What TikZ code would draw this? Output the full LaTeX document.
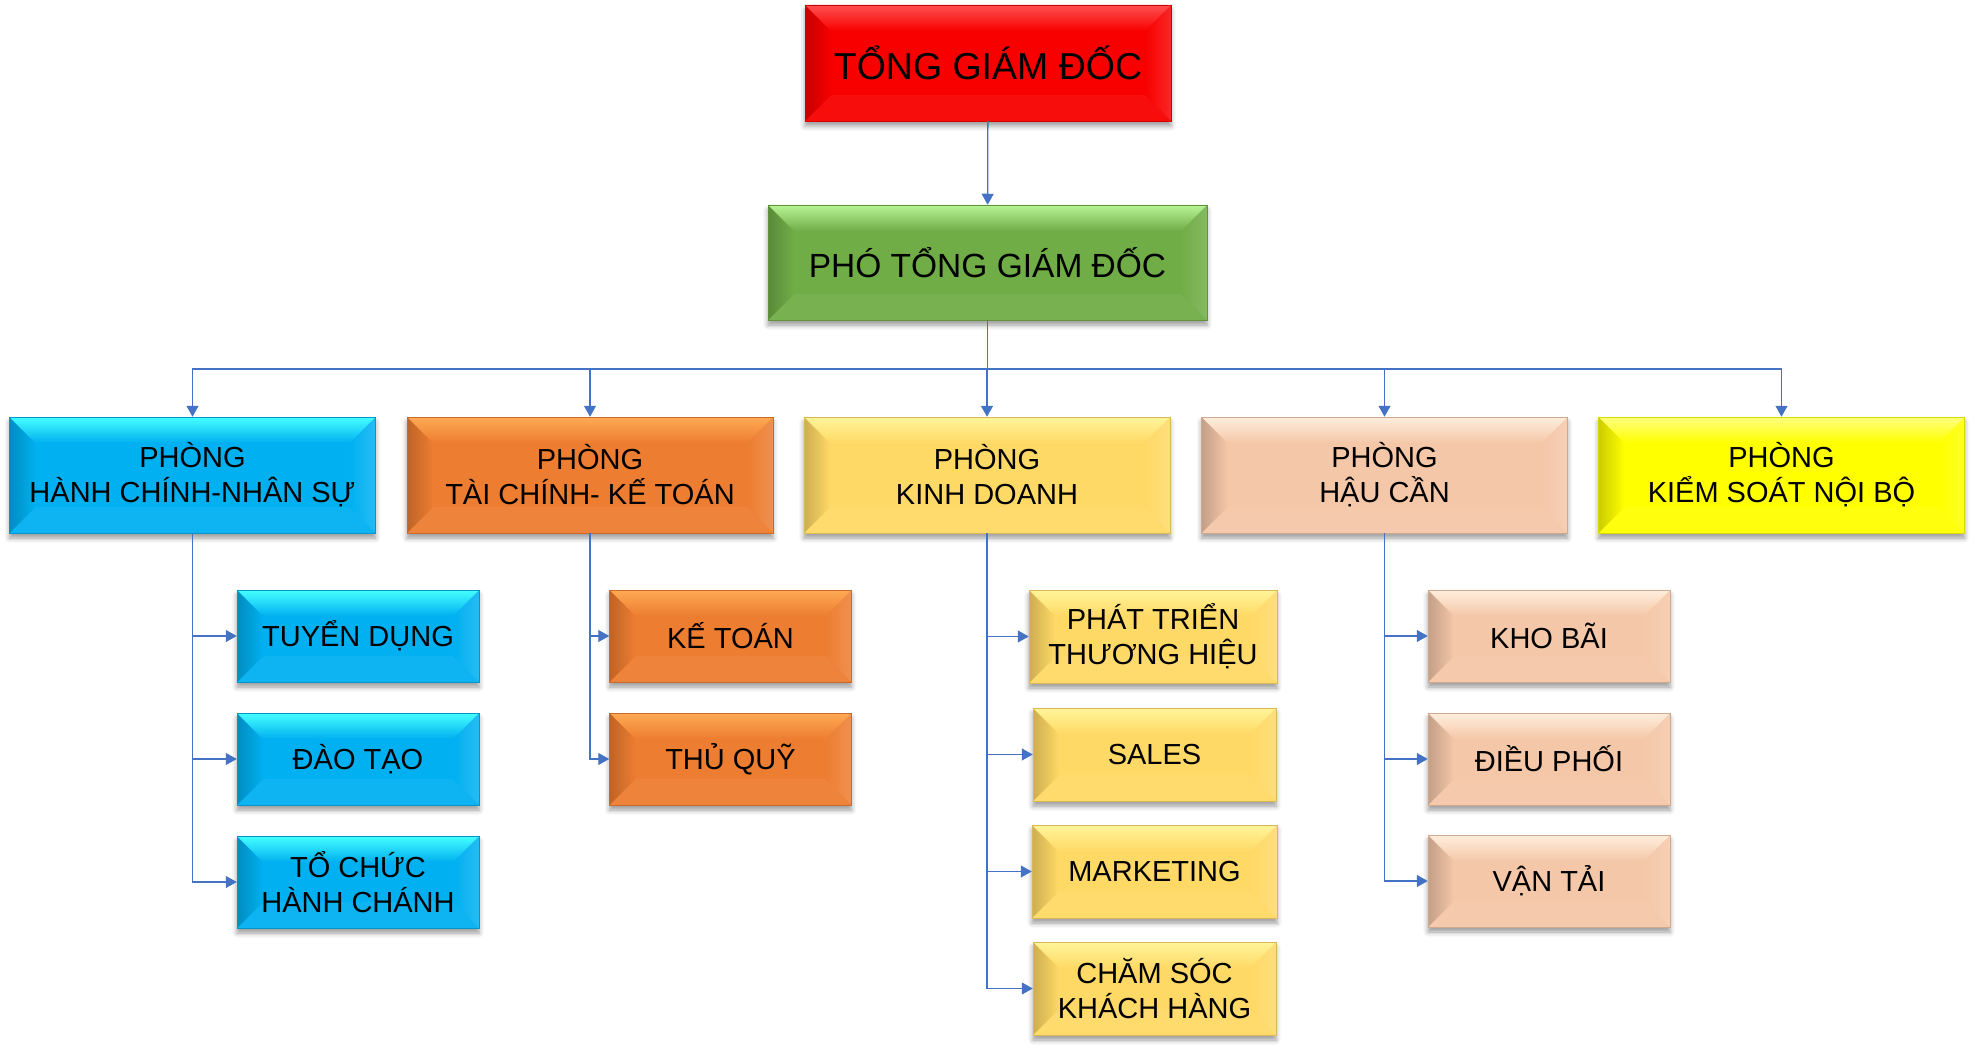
\documentclass[tikz,border=0pt]{standalone}
\usepackage{fontspec}
\setmainfont{Liberation Sans}
\usetikzlibrary{arrows.meta,shadows.blur}
\definecolor{lineblue}{HTML}{4472C4}
\definecolor{redM}{HTML}{F80000}\definecolor{redT}{HTML}{FF5050}
\definecolor{greenM}{HTML}{70AD47}\definecolor{greenT}{HTML}{B8F495}
\definecolor{blueM}{HTML}{00B0F0}\definecolor{blueT}{HTML}{45FFFF}
\definecolor{orangeM}{HTML}{ED7D31}\definecolor{orangeT}{HTML}{FFAA55}
\definecolor{goldM}{HTML}{FFD966}\definecolor{goldT}{HTML}{FFF59A}
\definecolor{peachM}{HTML}{F4C7A8}\definecolor{peachT}{HTML}{FFEEDD}
\definecolor{yellowM}{HTML}{FFFF00}\definecolor{yellowT}{HTML}{FFFF80}
\tikzset{
  bev/.style 2 args={rectangle, inner sep=0pt, align=center, text=black,
    fill=#1, draw=#1!85!black, line width=.5pt,
    blur shadow={shadow xshift=0pt, shadow yshift=-5pt, shadow blur radius=5pt, shadow opacity=40},
    path picture={
      \coordinate (bnw) at (path picture bounding box.north west);
      \coordinate (bne) at (path picture bounding box.north east);
      \coordinate (bsw) at (path picture bounding box.south west);
      \coordinate (bse) at (path picture bounding box.south east);
      \fill[#1!95!white] (bsw) -- (bse) -- ([xshift=-26pt,yshift=26pt]bse) -- ([xshift=26pt,yshift=26pt]bsw) -- cycle;
      \shade[left color=#1, right color=#1!85!white] (bne) -- (bse) -- ([xshift=-26pt,yshift=26pt]bse) -- ([xshift=-26pt,yshift=-26pt]bne) -- cycle;
      \shade[left color=#1!80!black, right color=#1] (bnw) -- ([xshift=26pt,yshift=-26pt]bnw) -- ([xshift=26pt,yshift=26pt]bsw) -- (bsw) -- cycle;
      \shade[top color=#2, bottom color=#1] (bnw) -- (bne) -- ([xshift=-26pt,yshift=-26pt]bne) -- ([xshift=26pt,yshift=-26pt]bnw) -- cycle;
    }},
  dept/.style={bev={#1M}{#1T}, minimum width=366pt, minimum height=116pt, font=\fontsize{29}{35}\selectfont},
  sub/.style={bev={#1M}{#1T}, minimum width=242pt, minimum height=92pt, font=\fontsize{29}{35}\selectfont},
  conn/.style={draw=lineblue, line width=1.3pt, -{Triangle[length=11pt,width=12pt]}}
}
\begin{document}
\begin{tikzpicture}[x=1pt,y=-1pt]
\useasboundingbox (0,0) rectangle (1975,1056);
\node[bev={redM}{redT}, minimum width=366pt, minimum height=116pt, font=\fontsize{37.5}{45}\selectfont] (tgd) at (988,63) {TỔNG GIÁM ĐỐC};
\node[bev={greenM}{greenT}, minimum width=439pt, minimum height=115pt, font=\fontsize{33.5}{40}\selectfont] (ptgd) at (987.5,262.5) {PHÓ TỔNG GIÁM ĐỐC};
\node[dept=blue] (hcns) at (192.5,475) {PHÒNG\\HÀNH CHÍNH-NHÂN SỰ};
\node[dept=orange] (tckt) at (590,475) {PHÒNG\\TÀI CHÍNH- KẾ TOÁN};
\node[dept=gold] (kd) at (987,475) {PHÒNG\\KINH DOANH};
\node[dept=peach] (hcan) at (1384.5,475) {PHÒNG\\HẬU CẦN};
\node[dept=yellow] (ksnb) at (1781.5,475) {PHÒNG\\KIỂM SOÁT NỘI BỘ};
\node[sub=blue] (tuyendung) at (358,636) {TUYỂN DỤNG};
\node[sub=blue] (daotao) at (358,759) {ĐÀO TẠO};
\node[sub=blue] (tochuc) at (358,882) {TỔ CHỨC\\HÀNH CHÁNH};
\node[sub=orange] (ketoan) at (730.5,636) {KẾ TOÁN};
\node[sub=orange] (thuquy) at (730.5,759) {THỦ QUỸ};
\node[sub=gold, minimum width=248pt, minimum height=93pt] (phattrien) at (1153,636.5) {PHÁT TRIỂN\\THƯƠNG HIỆU};
\node[sub=gold, minimum width=243pt, minimum height=93pt] (sales) at (1154.5,754.5) {SALES};
\node[sub=gold, minimum width=245pt, minimum height=93pt] (marketing) at (1154.5,871.5) {MARKETING};
\node[sub=gold, minimum width=243pt, minimum height=93pt] (chamsoc) at (1154.5,988.5) {CHĂM SÓC\\KHÁCH HÀNG};
\node[sub=peach] (khobai) at (1549,636) {KHO BÃI};
\node[sub=peach] (dieuphoi) at (1549,759) {ĐIỀU PHỐI};
\node[sub=peach] (vantai) at (1549,881) {VẬN TẢI};
\coordinate (bus) at (987.5,369);
\draw[conn] (tgd) -- (ptgd);
\draw[conn,-] (ptgd.south) -- (bus);
\foreach \d in {hcns,tckt,kd,hcan,ksnb}
  \draw[conn] (bus) -| (\d.north);
\foreach \s in {tuyendung,daotao,tochuc}
  \draw[conn] (hcns.south) |- (\s.west);
\foreach \s in {ketoan,thuquy}
  \draw[conn] (tckt.south) |- (\s.west);
\foreach \s in {phattrien,sales,marketing,chamsoc}
  \draw[conn] (kd.south) |- (\s.west);
\foreach \s in {khobai,dieuphoi,vantai}
  \draw[conn] (hcan.south) |- (\s.west);
\end{tikzpicture}
\end{document}
